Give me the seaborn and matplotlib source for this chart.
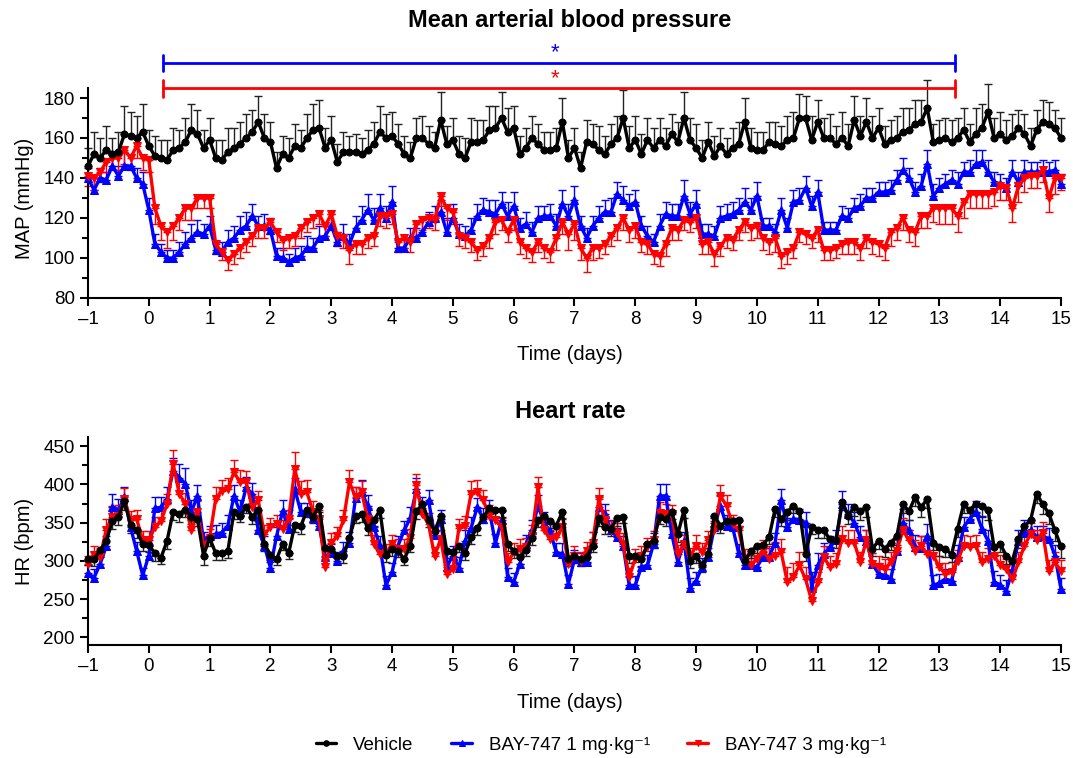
import numpy as np
import matplotlib
matplotlib.use("Agg")
import matplotlib.pyplot as plt
import matplotlib.ticker as mtick
import seaborn as sns

# time grid: 10 samples per day from day -1 to day 15
days = np.linspace(-1, 15, 161)
xtick_vals = list(range(-1, 16))
xtick_labels = ["\u20131"] + [str(d) for d in range(0, 16)]

series_names = ["Vehicle", "BAY-747 1 mg\u00b7kg\u207b\u00b9", "BAY-747 3 mg\u00b7kg\u207b\u00b9"]

# ---- MAP (mmHg) ----
map_veh = [146, 152, 150, 154, 152, 153, 162, 161, 160, 163,
           156, 151, 150, 149, 154, 155, 158, 164, 162, 155,
           159, 150, 149, 153, 155, 157, 160, 163, 168, 160,
           158, 145, 152, 150, 156, 155, 160, 164, 165, 155,
           159, 148, 153, 153, 153, 152, 154, 157, 163, 160,
           161, 157, 152, 150, 160, 160, 157, 155, 169, 157,
           159, 152, 150, 158, 158, 159, 164, 165, 170, 163,
           165, 152, 155, 160, 157, 154, 154, 155, 168, 150,
           155, 145, 158, 157, 154, 152, 157, 160, 170, 155,
           159, 152, 159, 155, 159, 156, 162, 158, 170, 159,
           155, 150, 158, 151, 156, 152, 155, 157, 168, 155,
           154, 154, 158, 157, 156, 159, 160, 170, 170, 159,
           168, 160, 160, 157, 160, 156, 169, 161, 168, 160,
           165, 157, 159, 160, 163, 164, 167, 168, 175, 158,
           159, 160, 158, 160, 164, 158, 162, 165, 173, 160,
           162, 159, 161, 165, 162, 156, 164, 168, 167, 165, 160]
map_veh_err = [9, 11, 10, 12, 8, 10, 14, 12, 11, 14,
               8, 10, 9, 10, 11, 9, 12, 13, 12, 9,
               11, 9, 10, 12, 10, 11, 12, 11, 13, 12,
               10, 8, 9, 10, 11, 9, 12, 13, 14, 10,
               12, 9, 10, 8, 9, 8, 10, 11, 13, 12,
               12, 10, 9, 8, 10, 11, 9, 8, 14, 9,
               11, 9, 10, 12, 11, 10, 12, 11, 13, 12,
               11, 9, 10, 11, 10, 9, 9, 10, 12, 9,
               10, 8, 11, 10, 12, 9, 10, 11, 14, 11,
               12, 10, 11, 10, 11, 9, 10, 10, 13, 11,
               12, 9, 10, 10, 9, 8, 10, 11, 12, 10,
               9, 9, 10, 11, 10, 12, 13, 12, 11, 12,
               11, 10, 12, 9, 13, 11, 12, 10, 12, 11,
               10, 9, 10, 11, 12, 11, 12, 11, 14, 9,
               10, 10, 11, 10, 11, 9, 13, 12, 14, 10,
               11, 10, 11, 9, 10, 9, 10, 11, 11, 9, 10]
map_b1 = [140, 134, 140, 139, 146, 141, 146, 146, 140, 137,
          124, 107, 103, 100, 100, 103, 107, 110, 113, 112,
          116, 104, 103, 108, 110, 114, 116, 121, 116, 116,
          114, 101, 100, 98, 100, 101, 105, 105, 110, 111,
          116, 108, 111, 107, 115, 119, 124, 119, 125, 120,
          128, 105, 105, 110, 110, 113, 118, 120, 123, 113,
          120, 112, 111, 114, 121, 124, 123, 122, 127, 121,
          126, 115, 117, 113, 120, 121, 121, 116, 127, 121,
          129, 116, 110, 116, 120, 123, 123, 132, 129, 126,
          128, 116, 111, 108, 116, 122, 121, 121, 131, 122,
          127, 112, 112, 111, 120, 121, 122, 124, 128, 124,
          131, 116, 116, 113, 124, 115, 128, 129, 135, 126,
          133, 114, 114, 114, 121, 120, 125, 126, 130, 130,
          133, 133, 134, 139, 144, 140, 133, 136, 147, 131,
          135, 137, 139, 137, 143, 143, 147, 148, 143, 138,
          137, 135, 143, 138, 143, 143, 143, 143, 143, 144, 137]
map_b1_err = [5, 6, 5, 4, 6, 5, 7, 6, 5, 6,
              6, 5, 4, 4, 4, 5, 6, 7, 6, 5,
              5, 4, 5, 6, 6, 7, 7, 6, 5, 6,
              6, 4, 5, 4, 5, 5, 6, 5, 6, 6,
              6, 5, 6, 5, 6, 7, 8, 6, 7, 6,
              8, 4, 5, 5, 5, 6, 5, 6, 6, 7,
              7, 5, 5, 6, 6, 6, 6, 7, 6, 7,
              7, 5, 6, 5, 6, 5, 6, 6, 7, 6,
              7, 5, 5, 5, 6, 6, 7, 6, 7, 6,
              6, 5, 5, 4, 6, 6, 6, 6, 8, 6,
              7, 5, 5, 5, 6, 6, 6, 6, 7, 6,
              7, 4, 4, 4, 6, 5, 6, 6, 6, 5,
              6, 4, 4, 4, 5, 5, 5, 6, 5, 5,
              5, 5, 5, 5, 6, 5, 5, 6, 7, 6,
              5, 5, 5, 6, 5, 6, 7, 6, 6, 5,
              5, 5, 6, 5, 6, 5, 5, 6, 5, 5, 5]
map_b3 = [141, 140, 143, 148, 150, 150, 154, 150, 156, 150,
          149, 125, 116, 113, 116, 120, 125, 125, 130, 130,
          130, 107, 103, 99, 102, 105, 108, 111, 115, 115,
          118, 113, 109, 110, 111, 115, 118, 120, 122, 116,
          122, 111, 110, 104, 107, 107, 110, 111, 121, 121,
          122, 108, 110, 108, 117, 119, 120, 119, 131, 125,
          123, 111, 110, 108, 104, 106, 110, 118, 119, 113,
          119, 108, 105, 103, 108, 105, 103, 110, 118, 112,
          117, 105, 100, 105, 105, 107, 111, 115, 120, 114,
          116, 108, 107, 102, 101, 107, 115, 114, 119, 118,
          120, 107, 108, 102, 106, 110, 109, 114, 118, 115,
          116, 110, 108, 110, 101, 103, 105, 113, 112, 110,
          114, 104, 104, 105, 107, 108, 108, 105, 110, 108,
          107, 105, 113, 115, 120, 114, 113, 121, 121, 125,
          125, 125, 125, 121, 128, 132, 132, 132, 132, 133,
          136, 135, 125, 136, 140, 141, 141, 144, 130, 140, 140]
map_b3_err = [5, 6, 5, 5, 6, 6, 7, 6, 6, 6,
              6, 8, 7, 8, 7, 6, 6, 6, 5, 5,
              5, 5, 4, 5, 5, 5, 5, 5, 5, 5,
              6, 5, 5, 5, 5, 5, 5, 5, 5, 5,
              6, 5, 5, 7, 5, 5, 5, 5, 5, 6,
              5, 5, 5, 5, 6, 5, 5, 5, 5, 6,
              6, 5, 5, 5, 5, 5, 5, 6, 5, 5,
              5, 6, 5, 5, 5, 5, 5, 6, 6, 8,
              8, 6, 7, 6, 5, 5, 5, 6, 6, 6,
              6, 5, 5, 5, 5, 6, 6, 5, 5, 5,
              5, 5, 6, 6, 5, 5, 5, 5, 5, 6,
              6, 6, 6, 7, 6, 6, 5, 5, 5, 5,
              6, 5, 5, 5, 5, 6, 6, 6, 5, 6,
              6, 6, 7, 6, 6, 6, 7, 6, 6, 7,
              8, 8, 8, 8, 8, 7, 7, 7, 7, 7,
              7, 6, 7, 8, 7, 6, 6, 6, 7, 8, 6]

# ---- HR (bpm) ----
hr_veh = [302, 302, 314, 326, 352, 358, 378, 347, 340, 322,
          321, 310, 304, 326, 364, 361, 367, 358, 355, 307,
          330, 310, 310, 313, 364, 359, 371, 358, 366, 322,
          308, 302, 322, 310, 347, 345, 367, 358, 372, 317,
          316, 307, 306, 330, 359, 361, 343, 353, 366, 308,
          316, 313, 302, 320, 365, 374, 354, 339, 359, 313,
          311, 319, 310, 331, 343, 357, 369, 366, 367, 322,
          313, 305, 314, 330, 353, 359, 352, 346, 364, 302,
          306, 302, 305, 320, 356, 344, 342, 356, 358, 307,
          307, 302, 322, 326, 358, 355, 364, 335, 366, 300,
          306, 294, 309, 359, 346, 352, 352, 354, 300, 313,
          319, 321, 331, 368, 355, 364, 372, 365, 309, 344,
          340, 340, 328, 327, 377, 359, 371, 365, 370, 316,
          326, 316, 324, 332, 374, 365, 383, 370, 381, 324,
          318, 316, 308, 342, 374, 366, 375, 372, 367, 318,
          322, 307, 300, 329, 346, 353, 388, 374, 362, 340, 319]
hr_veh_err = [8, 9, 9, 10, 10, 11, 12, 10, 10, 9,
              9, 10, 8, 10, 10, 10, 9, 10, 10, 12,
              11, 9, 9, 9, 9, 8, 9, 10, 12, 9,
              9, 8, 8, 8, 9, 10, 9, 9, 8, 10,
              9, 10, 9, 10, 10, 10, 9, 8, 10, 10,
              9, 8, 8, 9, 10, 9, 10, 9, 9, 9,
              8, 8, 9, 9, 9, 8, 8, 9, 10, 9,
              9, 9, 8, 9, 9, 9, 9, 10, 9, 9,
              9, 9, 8, 9, 10, 9, 9, 10, 9, 10,
              9, 9, 9, 9, 10, 9, 9, 10, 10, 9,
              9, 9, 8, 9, 10, 9, 9, 9, 9, 9,
              9, 9, 9, 10, 10, 11, 10, 10, 9, 9,
              10, 10, 10, 10, 11, 11, 12, 11, 12, 10,
              10, 11, 10, 11, 12, 12, 11, 12, 12, 10,
              11, 11, 10, 11, 12, 12, 12, 13, 13, 11,
              11, 11, 12, 12, 12, 12, 12, 13, 14, 14, 15]
hr_b1 = [284, 278, 296, 319, 371, 366, 383, 344, 313, 281,
         307, 369, 370, 381, 418, 409, 401, 364, 385, 326,
         333, 335, 337, 346, 385, 364, 396, 388, 340, 320,
         291, 332, 365, 342, 394, 364, 364, 356, 346, 305,
         310, 300, 313, 324, 382, 390, 372, 344, 320, 268,
         285, 320, 340, 356, 394, 369, 379, 334, 355, 292,
         307, 291, 326, 343, 370, 355, 366, 323, 353, 279,
         272, 296, 322, 340, 372, 350, 339, 311, 309, 270,
         302, 298, 298, 324, 370, 361, 340, 331, 320, 268,
         268, 292, 294, 322, 385, 385, 335, 298, 326, 265,
         274, 292, 305, 344, 372, 346, 344, 310, 294, 294,
         292, 305, 305, 324, 380, 344, 355, 354, 350, 265,
         294, 309, 318, 327, 374, 361, 350, 331, 326, 296,
         283, 281, 276, 313, 350, 340, 318, 317, 332, 268,
         271, 276, 274, 305, 344, 355, 364, 342, 326, 273,
         268, 261, 287, 326, 337, 340, 331, 332, 329, 307, 263]
hr_b1_err = [10, 12, 12, 14, 16, 15, 14, 12, 12, 10,
             12, 14, 14, 15, 16, 18, 20, 16, 14, 12,
             12, 12, 12, 14, 14, 16, 14, 14, 12, 12,
             10, 12, 14, 14, 14, 12, 12, 12, 12, 12,
             12, 12, 12, 14, 14, 16, 14, 14, 12, 12,
             12, 12, 12, 14, 14, 14, 14, 12, 12, 12,
             12, 14, 14, 14, 12, 14, 14, 12, 12, 12,
             12, 12, 12, 14, 14, 14, 12, 12, 14, 12,
             12, 12, 12, 14, 14, 14, 14, 12, 12, 12,
             12, 12, 14, 14, 16, 16, 14, 14, 12, 12,
             12, 12, 12, 12, 14, 14, 12, 12, 14, 14,
             14, 12, 12, 12, 14, 12, 14, 14, 14, 20,
             16, 14, 14, 14, 18, 14, 14, 14, 14, 14,
             14, 14, 14, 16, 18, 14, 16, 16, 16, 14,
             12, 14, 14, 16, 14, 14, 14, 16, 14, 14,
             14, 14, 14, 14, 16, 14, 14, 14, 14, 14, 14]
hr_b3 = [296, 308, 305, 341, 358, 359, 381, 353, 355, 327,
         327, 344, 352, 374, 427, 388, 375, 340, 364, 320,
         330, 381, 392, 394, 416, 403, 403, 370, 379, 335,
         344, 348, 342, 355, 420, 388, 390, 364, 355, 292,
         324, 332, 353, 403, 383, 390, 355, 322, 309, 310,
         322, 316, 316, 330, 399, 361, 348, 306, 329, 283,
         289, 343, 345, 388, 390, 379, 359, 353, 344, 298,
         311, 316, 318, 333, 396, 340, 329, 331, 344, 296,
         307, 300, 313, 324, 381, 353, 340, 337, 322, 279,
         303, 307, 318, 327, 363, 361, 361, 309, 322, 305,
         320, 311, 327, 340, 385, 372, 348, 340, 303, 294,
         303, 313, 303, 307, 311, 272, 279, 294, 276, 248,
         272, 305, 292, 296, 329, 324, 324, 298, 327, 296,
         292, 289, 298, 313, 340, 327, 313, 319, 309, 307,
         292, 283, 285, 300, 320, 318, 320, 298, 303, 307,
         294, 289, 276, 298, 320, 335, 327, 337, 287, 298, 287]
hr_b3_err = [10, 12, 12, 14, 14, 14, 14, 12, 12, 12,
             12, 14, 14, 14, 18, 18, 14, 14, 14, 12,
             12, 16, 14, 14, 16, 16, 14, 14, 12, 12,
             12, 12, 12, 12, 22, 16, 16, 14, 12, 10,
             12, 12, 14, 16, 14, 14, 14, 12, 12, 12,
             12, 12, 12, 12, 14, 14, 14, 12, 12, 12,
             12, 12, 14, 16, 16, 14, 14, 12, 12, 12,
             12, 12, 12, 14, 14, 14, 12, 12, 12, 12,
             12, 12, 12, 14, 14, 14, 12, 12, 14, 12,
             12, 12, 12, 12, 14, 14, 12, 12, 12, 12,
             14, 12, 12, 12, 14, 14, 12, 12, 12, 14,
             14, 14, 16, 18, 18, 20, 18, 18, 16, 14,
             14, 14, 14, 14, 16, 16, 16, 14, 14, 14,
             14, 14, 14, 14, 16, 14, 14, 14, 14, 14,
             14, 14, 14, 14, 14, 14, 14, 14, 14, 14,
             14, 14, 14, 14, 14, 14, 14, 14, 14, 14, 14]

# significance bars (day range)
sig_start, sig_end = 0.23, 13.26

sns.set_style("ticks")
plt.rcParams['font.family'] = ['Liberation Sans', 'DejaVu Sans']
for key in ("text.color", "axes.labelcolor", "xtick.color", "ytick.color",
            "axes.edgecolor"):
    plt.rcParams[key] = "black"

colors = ["#000000", "#0000ff", "#ff0000"]
markers = ["o", "^", "v"]
msizes = [5, 6, 6]

fig = plt.figure(figsize=(10.73, 7.58), dpi=100)
ax1 = fig.add_axes([0.082, 0.6069, 0.9068, 0.277])
ax2 = fig.add_axes([0.082, 0.1491, 0.9068, 0.2744])


def draw_series(ax, y, err, k, up):
    y = np.asarray(y, dtype=float)
    err = np.asarray(err, dtype=float)
    zeros = np.zeros_like(err)
    yerr = [zeros, err] if up else [err, zeros]
    ecol = "#222222" if k == 0 else colors[k]
    ax.errorbar(days, y, yerr=yerr, fmt="none", ecolor=ecol, elinewidth=1.0,
                capsize=3, capthick=1.0, clip_on=False, zorder=2)
    sns.lineplot(x=days, y=y, ax=ax, color=colors[k], marker=markers[k],
                 markersize=msizes[k], markeredgecolor=colors[k], linewidth=2.4,
                 label=series_names[k], clip_on=False, zorder=3)


# draw blue, red, then black on top
draw_series(ax1, map_b1, map_b1_err, 1, True)
draw_series(ax1, map_b3, map_b3_err, 2, False)
draw_series(ax1, map_veh, map_veh_err, 0, True)

draw_series(ax2, hr_b1, hr_b1_err, 1, True)
draw_series(ax2, hr_b3, hr_b3_err, 2, True)
draw_series(ax2, hr_veh, hr_veh_err, 0, False)

ax1.set_ylim(80, 185)
ax1.set_yticks([80, 100, 120, 140, 160, 180])
ax1.yaxis.set_minor_locator(mtick.MultipleLocator(10))
ax2.set_ylim(190, 462)
ax2.set_yticks([200, 250, 300, 350, 400, 450])
ax2.yaxis.set_minor_locator(mtick.MultipleLocator(25))

for ax in (ax1, ax2):
    ax.set_xlim(-1, 15)
    ax.set_xticks(xtick_vals)
    ax.set_xticklabels(xtick_labels)
    ax.tick_params(axis="both", which="major", labelsize=13.5, length=6, width=1.5,
                   direction="out", color="black", labelcolor="black")
    ax.tick_params(axis="y", which="minor", length=4, width=1.5, color="black")
    for side in ("top", "right"):
        ax.spines[side].set_visible(False)
    for side in ("left", "bottom"):
        ax.spines[side].set_linewidth(1.5)
        ax.spines[side].set_color("black")
    ax.set_xlabel("")
    ax.set_ylabel("")
    if ax.get_legend() is not None:
        ax.get_legend().remove()

# significance brackets above the MAP panel
for yv, ys, col in [(197.5, 202.5, colors[1]), (184.8, 189.5, colors[2])]:
    ax1.plot([sig_start, sig_end], [yv, yv], color=col, lw=2, clip_on=False)
    for xe in (sig_start, sig_end):
        ax1.plot([xe, xe], [yv - 4.2, yv + 4.2], color=col, lw=2, clip_on=False)
    ax1.text(6.68, ys, "*", color=col, fontsize=16, ha="center", va="center")

cx = 570 / 1073
fig.text(cx, 1 - 20 / 758, "Mean arterial blood pressure", ha="center", va="center",
         fontsize=17, fontweight="bold")
fig.text(cx, 1 - 411 / 758, "Heart rate", ha="center", va="center",
         fontsize=17, fontweight="bold")
fig.text(cx, 1 - 355 / 758, "Time (days)", ha="center", va="center", fontsize=14.5)
fig.text(cx, 1 - 703 / 758, "Time (days)", ha="center", va="center", fontsize=14.5)
fig.text(24 / 1073, 1 - 198 / 758, "MAP (mmHg)", ha="center", va="center",
         rotation=90, fontsize=14.5)
fig.text(24 / 1073, 1 - 541 / 758, "HR (bpm)", ha="center", va="center",
         rotation=90, fontsize=14.5)

handles, labels = ax2.get_legend_handles_labels()
order = [labels.index(n) for n in series_names]
fig.legend([handles[i] for i in order], [labels[i] for i in order],
           loc="center", bbox_to_anchor=(0.56, 0.017), ncol=3, frameon=False,
           fontsize=13.5, handlelength=1.1, columnspacing=2.0, handletextpad=0.9,
           markerscale=0.8)

fig.savefig("out.png", dpi=100)
